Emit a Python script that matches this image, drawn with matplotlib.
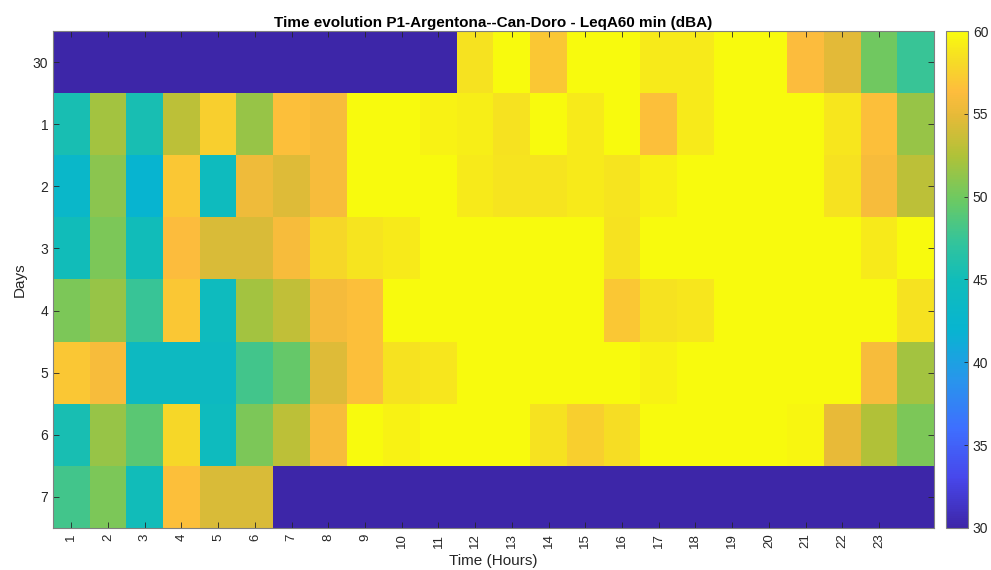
import numpy as np
import matplotlib
matplotlib.use("Agg")
import matplotlib.pyplot as plt
from matplotlib.colors import LinearSegmentedColormap

plt.rcParams['font.family'] = ['Liberation Sans', 'DejaVu Sans']

hours = list(range(1, 25))
hour_tick_labels = [str(h) for h in range(1, 24)]
day_labels = ["30", "1", "2", "3", "4", "5", "6", "7"]

day30 = [30, 30, 30, 30, 30, 30, 30, 30, 30, 30, 30, 58.5, 60, 57, 60, 60, 59, 59, 60, 60, 56.3, 54.8, 50, 47.5]
day1 = [45.5, 52, 45.5, 53, 57.5, 51.5, 56.5, 56, 60, 60, 59.5, 59.2, 58.5, 60, 59, 60, 56.5, 59, 60, 60, 60, 58.8, 56.5, 51.5]
day2 = [43, 51, 42, 57, 44.5, 55.5, 54.5, 56, 60, 60, 60, 59, 58.7, 58.7, 59, 58.7, 59.3, 60, 60, 60, 60, 58.5, 56, 53]
day3 = [45, 50.5, 45, 56.3, 54.3, 54.3, 56, 58, 58.7, 59, 60, 60, 60, 60, 60, 58.5, 60, 60, 60, 60, 60, 60, 59, 60]
day4 = [50.5, 51.5, 47.5, 57, 44.5, 52, 53.3, 55.8, 56.5, 60, 60, 60, 60, 60, 60, 57, 58.5, 58.8, 60, 60, 60, 60, 60, 58.5]
day5 = [57, 56, 44, 44, 44, 48, 49.5, 54.5, 56.5, 58.5, 58.8, 60, 60, 60, 60, 60, 59.5, 60, 60, 60, 60, 60, 56, 52]
day6 = [45.5, 51.5, 49, 58, 44.5, 50.5, 53, 56, 60, 59.5, 60, 60, 60, 58.5, 57.5, 58.3, 60, 60, 60, 60, 59.7, 55, 52.5, 50.5]
day7 = [48, 50.5, 45, 56.5, 54.3, 54.3, 30, 30, 30, 30, 30, 30, 30, 30, 30, 30, 30, 30, 30, 30, 30, 30, 30, 30]

Z = np.array([day30, day1, day2, day3, day4, day5, day6, day7])

parula_anchors = [
    (0.000, (0.2422, 0.1504, 0.6603)),
    (0.100, (0.2803, 0.2782, 0.9221)),
    (0.200, (0.2440, 0.4358, 0.9988)),
    (0.300, (0.1540, 0.5902, 0.9218)),
    (0.400, (0.0297, 0.7082, 0.8163)),
    (0.500, (0.0650, 0.7400, 0.7300)),
    (0.580, (0.2100, 0.7700, 0.6000)),
    (0.660, (0.4200, 0.7900, 0.3900)),
    (0.750, (0.6900, 0.7600, 0.2200)),
    (0.830, (0.9000, 0.7300, 0.2200)),
    (0.880, (0.9950, 0.7400, 0.2400)),
    (0.940, (0.9650, 0.8600, 0.1500)),
    (1.000, (0.9763, 0.9831, 0.0538)),
]
parula = LinearSegmentedColormap.from_list("parula", parula_anchors, N=256)

fig = plt.figure(figsize=(9.91, 5.70), dpi=100)
ax = fig.add_axes([0.0535, 0.0737, 0.889, 0.8719])
im = ax.imshow(Z, cmap=parula, vmin=30, vmax=60, aspect="auto",
               interpolation="nearest",
               extent=(0.5, len(hours) + 0.5, len(day_labels) + 0.5, 0.5))

ax.set_xticks(range(1, 24))
ax.set_xticklabels(hour_tick_labels, rotation=90, fontsize=9.5, color="#262626")
ax.set_yticks(range(1, len(day_labels) + 1))
ax.set_yticklabels(day_labels, fontsize=10, color="#262626")
ax.tick_params(direction="in", length=4, width=0.6, color="#262626",
               top=True, right=True, labeltop=False, labelright=False)
ax.tick_params(axis="x", pad=4)
for s in ax.spines.values():
    s.set_color("#808080")
    s.set_linewidth(0.8)

ax.set_xlabel("Time (Hours)", fontsize=11, color="#262626", labelpad=4)
ax.set_ylabel("Days", fontsize=11, color="#262626", labelpad=4)
ax.set_title("Time evolution P1-Argentona--Can-Doro - LeqA60 min (dBA)",
             fontsize=11, fontweight="bold", color="#000000", pad=3)

cax = fig.add_axes([0.9546, 0.0737, 0.0222, 0.8719])
cb = fig.colorbar(im, cax=cax)
cb.set_ticks([30, 35, 40, 45, 50, 55, 60])
cb.ax.tick_params(direction="in", length=3, width=0.6, labelsize=10,
                  colors="#262626")
cb.outline.set_edgecolor("#808080")
cb.outline.set_linewidth(0.8)

fig.savefig("out.png", dpi=100)
